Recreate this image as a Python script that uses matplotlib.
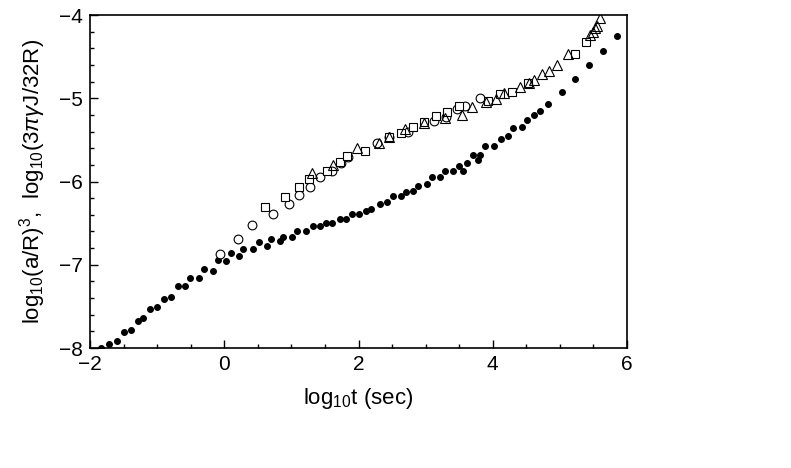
import matplotlib
matplotlib.use("Agg")
import matplotlib.pyplot as plt
from matplotlib.ticker import MultipleLocator

plt.rcParams['font.family'] = ['Liberation Sans', 'DejaVu Sans']
plt.rcParams['mathtext.fontset'] = 'custom'
plt.rcParams['mathtext.rm'] = 'Liberation Sans'
plt.rcParams['mathtext.it'] = 'Liberation Sans:italic'

# filled dots: log10 (a/R)^3
dots_x = [-1.83, -1.71, -1.60, -1.50, -1.39, -1.29, -1.21, -1.11, -1.00, -0.90,
          -0.79, -0.69, -0.58, -0.51, -0.38, -0.30, -0.17, -0.09, 0.02, 0.10,
          0.22, 0.28, 0.43, 0.51, 0.64, 0.70, 0.83, 0.88, 1.01, 1.09,
          1.22, 1.32, 1.43, 1.51, 1.61, 1.72, 1.82, 1.90, 2.00, 2.11,
          2.19, 2.32, 2.42, 2.52, 2.63, 2.71, 2.81, 2.89, 3.02, 3.10,
          3.21, 3.29, 3.41, 3.49, 3.55, 3.62, 3.70, 3.78, 3.81, 3.89,
          4.02, 4.12, 4.22, 4.30, 4.43, 4.51, 4.62, 4.70, 4.83, 5.03,
          5.22, 5.43, 5.64, 5.85]
dots_y = [-8.00, -7.95, -7.91, -7.81, -7.78, -7.68, -7.64, -7.53, -7.51, -7.41,
          -7.39, -7.26, -7.26, -7.16, -7.16, -7.05, -7.07, -6.94, -6.96, -6.86,
          -6.90, -6.81, -6.81, -6.73, -6.77, -6.69, -6.71, -6.67, -6.67, -6.60,
          -6.60, -6.54, -6.54, -6.50, -6.50, -6.45, -6.45, -6.39, -6.39, -6.35,
          -6.33, -6.27, -6.25, -6.18, -6.17, -6.12, -6.11, -6.05, -6.03, -5.95,
          -5.95, -5.87, -5.87, -5.81, -5.87, -5.78, -5.68, -5.74, -5.68, -5.57,
          -5.57, -5.49, -5.45, -5.36, -5.34, -5.26, -5.20, -5.15, -5.07, -4.92,
          -4.77, -4.60, -4.43, -4.25]

# open circles
circ_x = [-0.06, 0.20, 0.41, 0.72, 0.96, 1.11, 1.27, 1.43, 1.61, 1.74,
          1.85, 2.28, 2.46, 2.73, 3.13, 3.30, 3.47, 3.59, 3.81]
circ_y = [-6.87, -6.69, -6.52, -6.39, -6.27, -6.16, -6.06, -5.95, -5.87, -5.78,
          -5.70, -5.54, -5.46, -5.40, -5.27, -5.22, -5.13, -5.09, -5.00]

# open squares
sq_x = [0.60, 0.91, 1.11, 1.26, 1.53, 1.72, 1.83, 2.09, 2.46, 2.64,
        2.81, 2.98, 3.16, 3.32, 3.50, 3.93, 4.11, 4.28, 4.52, 5.23, 5.39]
sq_y = [-6.31, -6.19, -6.07, -5.97, -5.87, -5.77, -5.69, -5.63, -5.46, -5.42,
        -5.34, -5.29, -5.21, -5.16, -5.09, -5.03, -4.95, -4.92, -4.82, -4.47, -4.33]

# open triangles
tri_x = [1.30, 1.62, 1.98, 2.31, 2.46, 2.69, 2.97, 3.29, 3.54, 3.69,
         3.90, 4.05, 4.17, 4.40, 4.54, 4.61, 4.73, 4.84, 4.95, 5.12,
         5.45, 5.50, 5.53, 5.55, 5.60]
tri_y = [-5.90, -5.80, -5.60, -5.54, -5.46, -5.37, -5.30, -5.24, -5.20, -5.11,
         -5.04, -5.01, -4.94, -4.87, -4.82, -4.78, -4.71, -4.67, -4.60, -4.47,
         -4.24, -4.20, -4.16, -4.13, -4.04]

fig = plt.figure(figsize=(7.91, 4.68), dpi=100)
ax = fig.add_axes([0.1138, 0.2564, 0.6789, 0.7115])

ax.plot(dots_x, dots_y, 'o', color='black', markersize=4, linestyle='none')
ax.plot(circ_x, circ_y, 'o', mfc='white', mec='black', mew=0.8, markersize=6.3, linestyle='none')
ax.plot(sq_x, sq_y, 's', mfc='white', mec='black', mew=0.8, markersize=5.8, linestyle='none')
ax.plot(tri_x, tri_y, '^', mfc='none', mec='black', mew=0.8, markersize=7, linestyle='none')

ax.set_xlim(-2, 6)
ax.set_ylim(-8, -4)
ax.xaxis.set_major_locator(MultipleLocator(2))
ax.xaxis.set_minor_locator(MultipleLocator(0.5))
ax.yaxis.set_major_locator(MultipleLocator(1))
ax.yaxis.set_minor_locator(MultipleLocator(0.2))
ax.tick_params(which='both', direction='in', top=False, right=False,
               labelsize=15, width=1.0)
ax.tick_params(which='major', length=6, pad=5)
ax.tick_params(which='minor', length=3)
for s in ax.spines.values():
    s.set_linewidth(1.2)

ax.set_xlabel(r'log$_{10}$t (sec)', fontsize=16, labelpad=9)
ax.set_ylabel(r'log$_{10}$(a/R)$^3$,  log$_{10}$(3$\pi\gamma$J/32R)', fontsize=16, labelpad=8)

fig.savefig('out.png', dpi=100)
